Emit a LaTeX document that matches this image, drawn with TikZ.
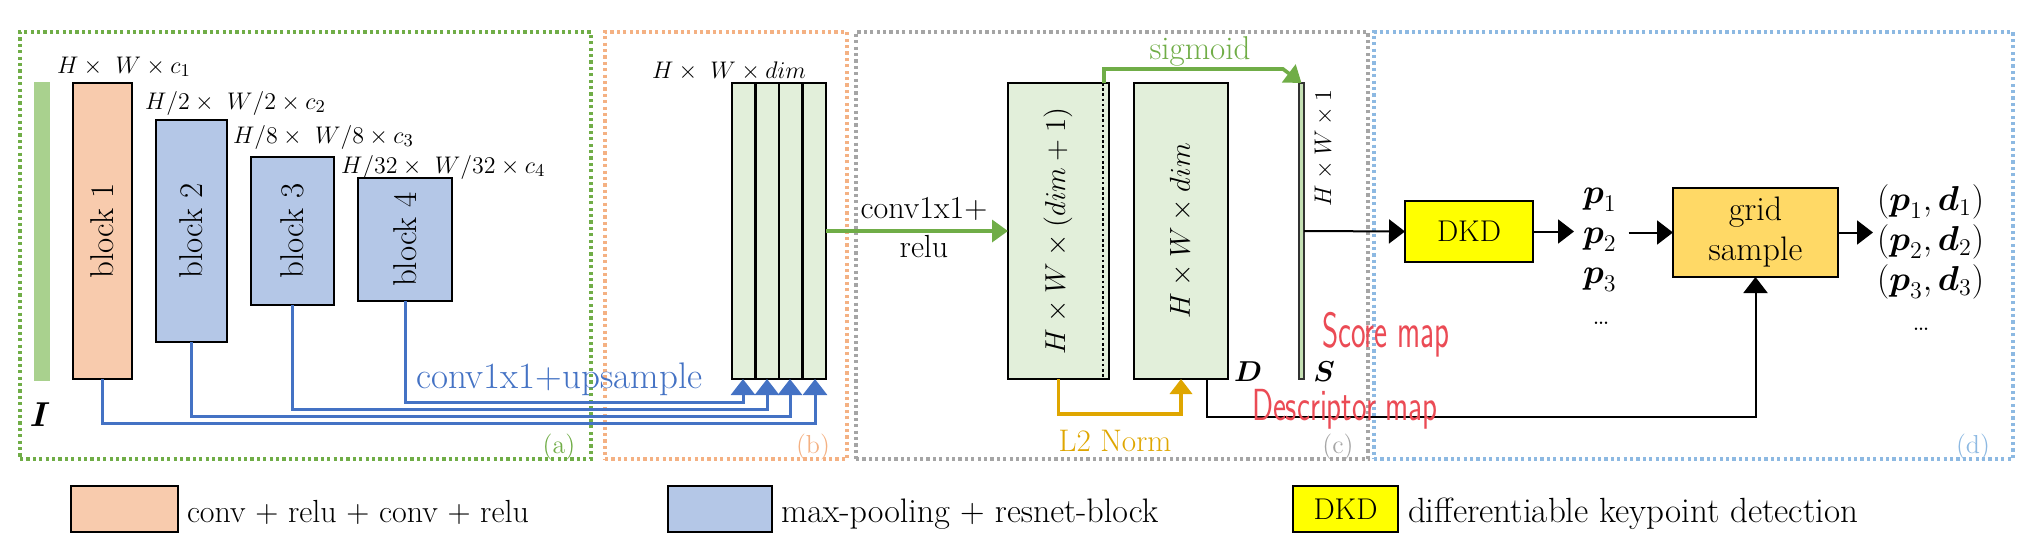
\documentclass[tikz,border=0pt]{standalone}
\usepackage{fontspec}
\usepackage{amsmath}
\usetikzlibrary{arrows.meta,fit}
\definecolor{peach}{HTML}{F8CBAD}
\definecolor{lblue}{HTML}{B4C7E7}
\definecolor{lgreen}{HTML}{E2EFDA}
\definecolor{mgreen}{HTML}{A9D18E}
\definecolor{sgreen}{HTML}{C5E0B4}
\definecolor{ogreen}{HTML}{70AD47}
\definecolor{oorange}{HTML}{F4B183}
\definecolor{ogray}{HTML}{A5A5A5}
\definecolor{oblue}{HTML}{8DB9E2}
\definecolor{cblue}{HTML}{4472C4}
\definecolor{gold}{HTML}{DFA600}
\definecolor{gridfill}{HTML}{FFD966}
\definecolor{dkdfill}{HTML}{FFFF00}
\definecolor{hand}{HTML}{EB4B55}
\newcommand{\fsz}[2]{\fontsize{#1}{#2}\selectfont}
\begin{document}
\begin{tikzpicture}[x=0.5pt,y=-0.5pt,
  every node/.style={inner sep=0pt,outer sep=0pt},
  region/.style={line width=1.6pt,dash pattern=on 1.6pt off 1.6pt},
  blk/.style={draw=black,line width=1.2pt},
  rot/.style={rotate=90},
  bconn/.style={draw=cblue,line width=1.5pt,-{Triangle[length=8pt,width=12pt]}},
  gconn/.style={draw=ogreen,line width=1.8pt,-{Triangle[length=8pt,width=11pt]}},
  yconn/.style={draw=gold,line width=1.8pt,-{Triangle[length=7.5pt,width=11pt]}},
  kconn/.style={draw=black,line width=1pt,-{Triangle[length=8pt,width=12pt]}},
  dimlab/.style={anchor=base west,font=\fsz{12.3}{15}},
]
\useasboundingbox (0,0) rectangle (2025,558);

% regions
\node[region,draw=ogreen,fit={(20,32)(591,459)}] (ra) {};
\node[region,draw=oorange,fit={(605,32)(847,459)}] (rb) {};
\node[region,draw=ogray,fit={(856,32)(1368,459)}] (rc) {};
\node[region,draw=oblue,fit={(1374,32)(2013,459)}] (rd) {};
\node[anchor=base,text=ogreen,font=\fsz{13}{16}] (la) at (559,453) {(a)};
\node[anchor=base,text=oorange,font=\fsz{13}{16}] (lb) at (813,453) {(b)};
\node[anchor=base,text=ogray,font=\fsz{13}{16}] (lc) at (1338,453) {(c)};
\node[anchor=base,text=oblue,font=\fsz{13}{16}] (ld) at (1973,453) {(d)};

% (a) encoder
\node[fill=mgreen,fit={(34,82)(50,381)}] (img) {};
\node[anchor=base,font=\fsz{16}{19}] (imglab) at (40,426) {$\boldsymbol{I}$};
\node[blk,fill=peach,fit={(73,83)(132,379)}] (b1) {};
\node[blk,fill=lblue,fit={(156,120)(227,342)}] (b2) {};
\node[blk,fill=lblue,fit={(251,157)(334,305)}] (b3) {};
\node[blk,fill=lblue,fit={(358,178)(452,301)}] (b4) {};
\node[rot,font=\fsz{16.5}{19}] (t1) at (b1) {block 1};
\node[rot,font=\fsz{16.5}{19}] (t2) at (b2) {block 2};
\node[rot,font=\fsz{16.5}{19}] (t3) at (b3) {block 3};
\node[rot,font=\fsz{16.5}{19}] (t4) at (b4) {block 4};
\node[dimlab] (d1) at (57,73) {$H\times\ W\times c_1$};
\node[dimlab] (d2) at (145,109) {$H/2\times\ W/2\times c_2$};
\node[dimlab] (d3) at (233,143) {$H/8\times\ W/8\times c_3$};
\node[dimlab] (d4) at (341,173) {$H/32\times\ W/32\times c_4$};

% (b) stack
\node[blk,fill=lgreen,fit={(732,83)(826,379)}] (st) {};
\draw[line width=1.2pt] (755.5,83) -- (755.5,379) (779,83) -- (779,379) (802.5,83) -- (802.5,379);
\node[anchor=base west,font=\fsz{12}{15}] (dst) at (652,78) {$H\times\ W\times dim$};
\coordinate (in1) at (743,379);
\coordinate (in2) at (767,379);
\coordinate (in3) at (790,379);
\coordinate (in4) at (815,379);
\draw[bconn] (b4.south) -- ++(0,101) -| (in1);
\draw[bconn] (b3.south) -- ++(0,104) -| (in2);
\draw[bconn] (b2.south) -- ++(0,74) -| (in3);
\draw[bconn] (b1.south) -- ++(0,44) -| (in4);
\node[anchor=base west,text=cblue,font=\fsz{18.5}{21}] (ups) at (416,388) {conv1x1+upsample};

% (c) heads
\node[blk,fill=lgreen,fit={(1008,83)(1109,379)}] (c1) {};
\draw[line width=1.3pt,dash pattern=on 1.3pt off 1.3pt] (1103,83) -- (1103,379);
\node[blk,fill=lgreen,fit={(1134,83)(1228,379)}] (c2) {};
\node[draw=black!80,line width=0.6pt,fill=sgreen,fit={(1299,83)(1304,379)}] (sb) {};
\node[rot,font=\fsz{14.6}{17}] (tc1) at (1058,231) {$H\times W\times(dim+1)$};
\node[rot,font=\fsz{14.6}{17}] (tc2) at (c2) {$H\times W\times dim$};
\node[rot,font=\fsz{12.5}{15}] (tsb) at (1324,148) {$H\times W\times 1$};
\node[align=center,font=\fsz{16}{19.5}] (cr) at (924,228) {conv1x1+\\relu};
\draw[gconn] (st.east) -- (c1.west);
\coordinate (sg) at (1104,83);
\draw[gconn] (sg) |- (1283,69) -- (sb.north);
\node[anchor=base,text=ogreen,font=\fsz{16.5}{19}] (sgl) at (1200,59) {sigmoid};
\draw[yconn] (c1.south) -- ++(0,35) -| (c2.south);
\node[anchor=base,text=gold,font=\fsz{15.6}{19}] (l2) at (1115,451) {L2 Norm};
\node[anchor=base,font=\fsz{15}{18}] (dl) at (1248,381) {$\boldsymbol{D}$};
\node[anchor=base,font=\fsz{15}{18}] (sl) at (1324,381) {$\boldsymbol{S}$};

% (d) keypoints
\node[blk,fill=dkdfill,fit={(1405,201)(1533,262)}] (dkd) {};
\node[font=\fsz{15}{18}] (dkdt) at (dkd) {DKD};
\node[blk,fill=gridfill,fit={(1673,188)(1838,277)}] (grid) {};
\node[align=center,font=\fsz{17}{20}] (gridt) at (grid) {grid\\sample};
\node[anchor=west,font=\fsz{17}{20}] (p1) at (1583,200) {$\boldsymbol{p}_1$};
\node[anchor=west,font=\fsz{17}{20}] (p2) at (1583,240) {$\boldsymbol{p}_2$};
\node[anchor=west,font=\fsz{17}{20}] (p3) at (1583,280) {$\boldsymbol{p}_3$};
\node[anchor=base,font=\fsz{15}{18}] (pd) at (1601,324) {\dots};
\node[anchor=west,font=\fsz{16.5}{19}] (o1) at (1877,202) {$(\boldsymbol{p}_1,\boldsymbol{d}_1)$};
\node[anchor=west,font=\fsz{16.5}{19}] (o2) at (1877,242) {$(\boldsymbol{p}_2,\boldsymbol{d}_2)$};
\node[anchor=west,font=\fsz{16.5}{19}] (o3) at (1877,282) {$(\boldsymbol{p}_3,\boldsymbol{d}_3)$};
\node[anchor=base,font=\fsz{15}{18}] (od) at (1921,330) {\dots};
\draw[kconn] (sb.east) -- (dkd.west);
\draw[kconn,shorten >=4.5pt] (dkd.east) -- (dkd.east -| p2.west);
\draw[kconn,shorten <=6pt] (p2.east |- grid.west) -- (grid.west);
\draw[kconn,shorten >=2pt] (grid.east) -- (grid.east -| o2.west);
\coordinate (dout) at (1207,379);
\draw[kconn] (dout) -- (1207,417) -| (grid.south);

% handwritten notes
\node[anchor=base west,text=hand,font=\sffamily\fsz{15.5}{18}] (hs) at (1322,347) {\scalebox{1}[1.6]{Score map}};
\node[anchor=base west,text=hand,font=\sffamily\fsz{15.5}{18}] (hd) at (1252,420) {\scalebox{1}[1.45]{Descriptor map}};

% legend
\node[blk,fill=peach,fit={(71,486)(178,532)}] (lg1) {};
\node[anchor=base west,font=\fsz{16}{19}] (lt1) at (187,522) {conv + relu + conv + relu};
\node[blk,fill=lblue,fit={(668,486)(772,532)}] (lg2) {};
\node[anchor=base west,font=\fsz{17}{20}] (lt2) at (781,522) {max-pooling + resnet-block};
\node[blk,fill=dkdfill,fit={(1293,486)(1398,532)}] (lg3) {};
\node[font=\fsz{15}{18}] (lg3t) at (lg3) {DKD};
\node[anchor=base west,font=\fsz{17.5}{20}] (lt3) at (1408,522) {differentiable keypoint detection};
\end{tikzpicture}
\end{document}
